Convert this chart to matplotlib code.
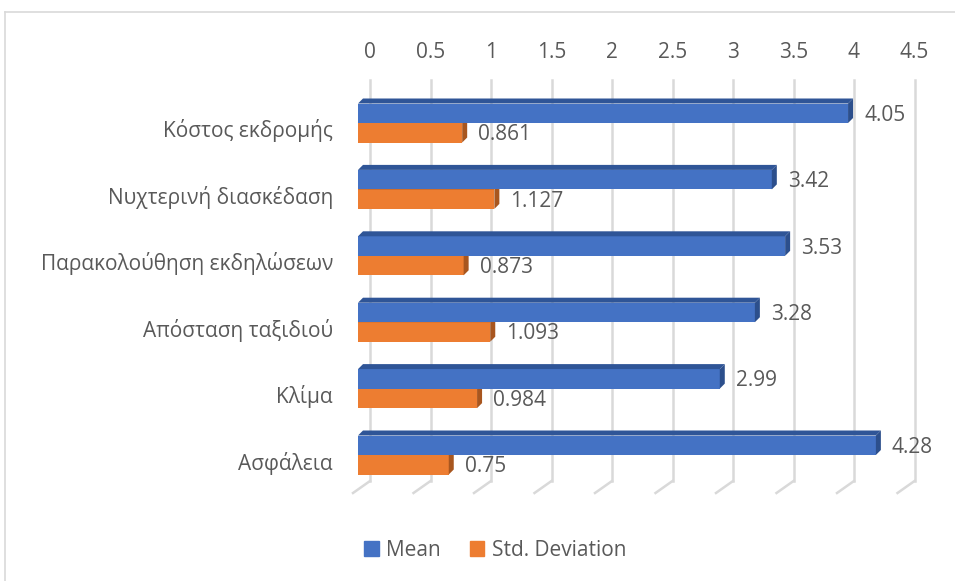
import matplotlib.pyplot as plt
from matplotlib.patches import Polygon, Patch
from matplotlib.lines import Line2D
import matplotlib.transforms as mtransforms

plt.rcParams['font.family'] = ['Open Sans', 'DejaVu Sans']

categories = ['Κόστος εκδρομής', 'Νυχτερινή διασκέδαση', 'Παρακολούθηση εκδηλώσεων',
              'Απόσταση ταξιδιού', 'Κλίμα', 'Ασφάλεια']
mean_vals = [4.05, 3.42, 3.53, 3.28, 2.99, 4.28]
std_vals = [0.861, 1.127, 0.873, 1.093, 0.984, 0.75]
mean_labels = ['4.05', '3.42', '3.53', '3.28', '2.99', '4.28']
std_labels = ['0.861', '1.127', '0.873', '1.093', '0.984', '0.75']
xticks = [0, 0.5, 1, 1.5, 2, 2.5, 3, 3.5, 4, 4.5]

BLUE, BLUE_TOP, BLUE_SIDE = '#4472C4', '#2F5597', '#2C4F8C'
ORANGE, ORANGE_SIDE = '#ED7D31', '#A8561F'
GRID = '#D9D9D9'
TXT = '#595959'
FS = 15

W, H = 955, 581
fig = plt.figure(figsize=(W / 100, H / 100), dpi=100)

# axes geometry in pixels (front plane of the bars)
px_x0, px_per_unit = 358, 121.0
px_top, px_bot = 80, 493
px_group0, px_group = 123, 66.4
xmax = 4.5
ax = fig.add_axes([px_x0 / W, 1 - px_bot / H, xmax * px_per_unit / W, (px_bot - px_top) / H])
ax.set_xlim(0, xmax)
y_top = (px_top - px_group0) / px_group
y_bot = (px_bot - px_group0) / px_group
ax.set_ylim(y_bot, y_top)
ax.axis('off')

ux = 1 / px_per_unit      # data units per pixel
uy = 1 / px_group

def px_shift(dx, dy):
    return ax.transData + mtransforms.ScaledTranslation(dx / 100, -dy / 100, fig.dpi_scale_trans)

# back wall gridlines + floor slants
back = px_shift(12, 0)
grid_bottom = (481 - px_group0) / px_group
for v in xticks:
    ax.plot([v, v], [y_top, grid_bottom], color=GRID, lw=1.8, transform=back, clip_on=False, zorder=1)
    ax.plot([v + 12 * ux, v - 5 * ux], [grid_bottom, grid_bottom + 12 * uy], color=GRID, lw=1.8,
            clip_on=False, zorder=1)
    ax.text(v, y_top - 27 * uy, f'{v:g}', transform=back, ha='center', va='center',
            fontsize=FS, color=TXT)

bar_h = 19.5 * uy
d = 5  # depth in pixels
for i, (m, s) in enumerate(zip(mean_vals, std_vals)):
    for val, lab, yc, face, side, top in [
        (s, std_labels[i], i + bar_h / 2, ORANGE, ORANGE_SIDE, ORANGE_SIDE),
        (m, mean_labels[i], i - bar_h / 2, BLUE, BLUE_SIDE, BLUE_TOP),
    ]:
        y0, y1 = yc - bar_h / 2, yc + bar_h / 2
        ax.barh(yc, val, height=bar_h, color=face, zorder=3)
        ax.add_patch(Polygon([(0, y0), (val, y0), (val + d * ux, y0 - d * uy), (d * ux, y0 - d * uy)],
                             closed=True, color=top, zorder=3, lw=0))
        ax.add_patch(Polygon([(val, y0), (val + d * ux, y0 - d * uy), (val + d * ux, y1 - d * uy), (val, y1)],
                             closed=True, color=side, zorder=3, lw=0))
        ax.text(val + 16 * ux, yc + 2 * uy, lab, ha='left', va='center', fontsize=FS, color=TXT, zorder=4)
    ax.text(-25 * ux, i + 8 * uy, categories[i], ha='right', va='center', fontsize=FS, color=TXT)

# chart border (left and top only visible)
fig.add_artist(Line2D([5 / W, 5 / W], [0, 1 - 12 / H], color=GRID, lw=1.2))
fig.add_artist(Line2D([5 / W, 1], [1 - 12 / H, 1 - 12 / H], color=GRID, lw=1.2))

handles = [Patch(color=BLUE, label='Mean'), Patch(color=ORANGE, label='Std. Deviation')]
fig.legend(handles=handles, loc='center', bbox_to_anchor=(495 / W, 1 - 550 / H), ncol=2,
           frameon=False, fontsize=FS, labelcolor=TXT, handlelength=0.7, handleheight=0.7,
           handletextpad=0.35, columnspacing=1.4)

fig.savefig('out.png', dpi=100)
